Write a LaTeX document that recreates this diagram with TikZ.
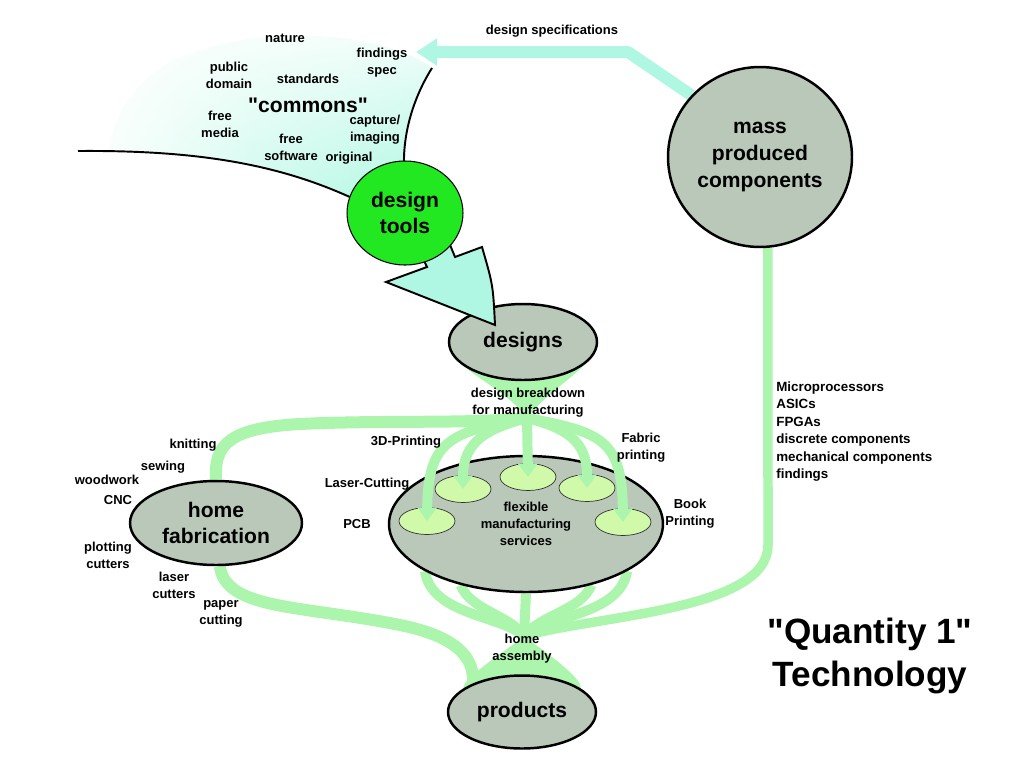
\documentclass[tikz,border=0pt]{standalone}
\usepackage{fontspec}
\setmainfont{Liberation Sans}
\newfontfamily\quotefont{Liberation Sans}
\usepackage{xcolor}
\usepackage{tikz}
\usetikzlibrary{arrows.meta,shapes.geometric,backgrounds,fadings}
\definecolor{flowgreen}{RGB}{172,245,172}
\definecolor{mintgreen}{RGB}{175,247,226}
\definecolor{blobgray}{RGB}{185,200,185}
\definecolor{cellgreen}{RGB}{208,250,170}
\definecolor{toolgreen}{RGB}{34,232,34}
\tikzfading[name=commonsfade,top color=transparent!90,bottom color=transparent!0]

\begin{document}
\begin{tikzpicture}[x=0.02cm,y=-0.02cm,
    blob/.style={ellipse,draw=black,line width=1.4pt,fill=blobgray,inner sep=0pt,align=center,font=\fontsize{12}{15}\selectfont\bfseries},
    cell/.style={ellipse,draw=black!80,line width=0.4pt,fill=cellgreen,minimum width=1.12cm,minimum height=0.54cm,inner sep=0pt},
    lbl/.style={font=\fontsize{7.4}{9.6}\selectfont\bfseries,align=center,inner sep=0pt},
    flow/.style={draw=flowgreen,line width=0.2cm},
    fanarrow/.style={flow,-{Triangle[width=0.38cm,length=0.27cm]}}]
  \useasboundingbox (0,0) rectangle (1024,768);

  % the blobs
  \node[blob,minimum width=5.48cm,minimum height=2.72cm,font=\fontsize{7.4}{9.7}\selectfont\bfseries] (flex) at (526,524) {flexible\\manufacturing\\services};
  \node[cell] (pcbcell) at (427,521) {};
  \node[cell] (lasercell) at (463,489) {};
  \node[cell] (printcell) at (528,477) {};
  \node[cell] (fabriccell) at (587,488) {};
  \node[cell] (bookcell) at (623,522) {};
  \node[blob,minimum width=3.44cm,minimum height=1.68cm] (homefab) at (216,523) {home\\fabrication};
  \node[blob,minimum width=2.96cm,minimum height=1.52cm] (designs) at (523,342) {designs};
  \node[blob,minimum width=3.68cm,minimum height=3.6cm,font=\fontsize{12}{15.6}\selectfont\bfseries] (mass) at (760,157) {mass\\produced\\components};
  \node[blob,minimum width=2.96cm,minimum height=1.46cm] (products) at (522,712) {products};

  \coordinate (breakdown) at (527,418);
  \coordinate (hub) at (524,636);
  \coordinate (commonsin) at (416,52);

  \begin{scope}[on background layer]
    % commons
    \shade[left color=white,right color=mintgreen,middle color=mintgreen!60,path fading=commonsfade]
      (80,151) .. controls (200,150) and (280,165) .. (350,197) -- (404,165)
      .. controls (403,130) and (415,95) .. (432,68)
      .. controls (380,30) and (250,22) .. (170,62)
      .. controls (125,88) and (112,125) .. (108,151) -- cycle;
    \draw[line width=1.1pt] (78,151) .. controls (200,150) and (280,165) .. (352,198);
    \draw[line width=1.1pt] (432,68) .. controls (415,95) and (403,130) .. (404,166);
    % specs back to the commons
    \draw[draw=mintgreen,line width=0.24cm,line join=round,-{Triangle[width=0.52cm,length=0.42cm]}]
      (mass.138) -- (628,52) -- (commonsin);
    % parts
    \draw[flow,line width=0.19cm] (mass.-85) -- (768,545) .. controls (768,610) and (600,615) .. (hub);
    % home fabrication
    \draw[flow,line width=0.24cm] (breakdown) .. controls (470,424) and (380,420) .. (300,424)
      .. controls (228,428) and (214,445) .. (homefab.north);
    \draw[flow,line width=0.24cm] (homefab.-85) .. controls (226,610) and (300,605) .. (400,625)
      .. controls (460,637) and (475,660) .. (products.150);
    % services to assembly
    \draw[flow] (flex.-155) .. controls (432,615) and (500,615) .. (hub);
    \draw[flow] (flex.-137) .. controls (470,610) and (510,615) .. (hub);
    \draw[flow] (flex.south) -- (hub);
    \draw[flow] (flex.-43) .. controls (582,610) and (540,615) .. (hub);
    \draw[flow] (flex.-25) .. controls (620,615) and (550,615) .. (hub);
    \fill[flowgreen] (designs.200) .. controls (480,380) and (510,395) .. (breakdown)
      .. controls (545,395) and (570,380) .. (designs.-20) -- cycle;
    \fill[flowgreen] (products.158) .. controls (462,678) and (505,652) .. (hub)
      .. controls (545,652) and (583,678) .. (products.22) -- cycle;
  \end{scope}

  % breakdown into the services
  \draw[fanarrow] (breakdown) .. controls (450,432) and (428,440) .. (pcbcell.center);
  \draw[fanarrow] (breakdown) .. controls (490,428) and (463,440) .. (lasercell.center);
  \draw[fanarrow] (breakdown) -- (printcell.center);
  \draw[fanarrow] (breakdown) .. controls (565,428) and (587,440) .. (fabriccell.center);
  \draw[fanarrow] (breakdown) .. controls (602,432) and (622,440) .. (bookcell.center);

  % big arrow and design tools
  \filldraw[fill=mintgreen,draw=black,line width=1.1pt,line join=miter]
    (448,240) -- (455,257) -- (482,247) .. controls (493,285) .. (495,325)
    -- (386,282) -- (427,267) -- (420,252) -- cycle;
  \node[ellipse,draw=black,line width=0.6pt,fill=toolgreen,minimum width=2.32cm,minimum height=2.08cm,
    inner sep=0pt,align=center,font=\fontsize{12}{15}\selectfont\bfseries] (tools) at (405,213) {design\\tools};

  % labels
  \node[lbl] (nature) at (285,38) {nature};
  \node[lbl] (publicdomain) at (229,75) {public\\domain};
  \node[lbl] (standards) at (308,79) {standards};
  \node[lbl] (findings) at (382,63) {findings\\spec};
  \node[lbl,font=\fontsize{12}{14}\selectfont\bfseries] (commons) at (308,105) {\quotefont "commons"};
  \node[lbl] (freemedia) at (220,124) {free\\media};
  \node[lbl] (capture) at (375,130) {capture/\\imaging};
  \node[lbl] (freesoft) at (291,147) {free\\software};
  \node[lbl] (original) at (349,158) {original};
  \node[lbl] (specs) at (552,31) {design specifications};
  \node[lbl] (breaklabel) at (528,403) {design breakdown\\for manufacturing};
  \node[lbl] (threed) at (406,442) {3D-Printing};
  \node[lbl] (lasercut) at (367,484) {Laser-Cutting};
  \node[lbl] (pcb) at (357,524) {PCB};
  \node[lbl] (fabric) at (641,448) {Fabric\\printing};
  \node[lbl] (book) at (690,514) {Book\\Printing};
  \node[lbl] (knitting) at (193,445) {knitting};
  \node[lbl] (sewing) at (163,467) {sewing};
  \node[lbl] (woodwork) at (107,480) {woodwork};
  \node[lbl] (cnc) at (118,500) {CNC};
  \node[lbl] (plotting) at (108,555) {plotting\\cutters};
  \node[lbl] (lasers) at (174,585) {laser\\cutters};
  \node[lbl] (paper) at (221,614) {paper\\cutting};
  \node[lbl] (assembly) at (522,649) {home\\assembly};
  \node[lbl,align=left,anchor=north west,font=\fontsize{7.6}{10}\selectfont\bfseries] (complist) at (776,381)
    {Microprocessors\\ASICs\\FPGAs\\discrete components\\mechanical components\\findings};
  \node[lbl,font=\fontsize{20}{24}\selectfont\bfseries] (quantity) at (870,656) {\quotefont "Quantity 1"\\\quotefont Technology};
\end{tikzpicture}
\end{document}
